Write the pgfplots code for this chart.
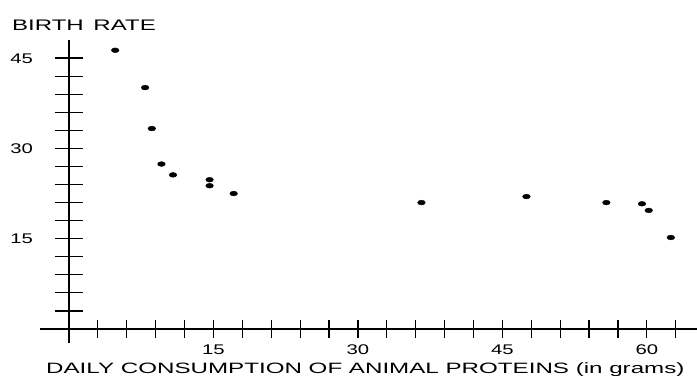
\documentclass[border=0pt]{standalone}
\usepackage{fontspec}
\setmainfont{Liberation Sans}
\newfontfamily\widefont[FakeStretch=1.57]{Liberation Sans}
\newfontfamily\xlabfont[FakeStretch=1.61]{Liberation Sans}
\newfontfamily\tickfont[FakeStretch=1.45]{Liberation Sans}
\usepackage{pgfplots}
\pgfplotsset{compat=1.18}
\pgfplotstableread{
x y
4.8 46.3
7.9 40.1
8.6 33.3
9.6 27.4
10.8 25.6
14.6 24.8
14.6 23.8
17.1 22.5
36.6 21.0
47.5 22.0
55.8 21.0
59.5 20.8
60.2 19.7
62.5 15.2
}\datatable
\pgfplotsset{
  base/.style={
    x=9.63bp, y=6.02bp,
    axis lines=middle,
    axis line style={-, line width=1.3bp, black},
    xmin=-3, xmax=65.5, ymin=-2.3, ymax=48,
    tick align=center,
    tick style={line width=1.2bp, black},
    clip=false,
    /pgf/number format/assume math mode=true,
  }
}
\begin{document}
\begin{tikzpicture}
\begin{axis}[base,
  major tick length=17bp,
  xtick={3,6,...,63},
  xticklabels={,,,,15,,,,,30,,,,,45,,,,,60,},
  xticklabel style={font=\tickfont\fontsize{14bp}{16bp}\selectfont, anchor=base, inner sep=0pt, yshift=-17bp},
  ytick=\empty,
]
\addplot[only marks, mark=*, mark size=2.4bp, mark options={xscale=1.6, black}] table[x=x,y=y] {\datatable};
\coordinate (O) at (axis cs:0,0);
\end{axis}
\begin{axis}[base,
  major tick length=28bp,
  hide x axis,
  ytick={3,6,...,45},
  yticklabels={,,,,15,,,,,30,,,,,45},
  yticklabel style={font=\tickfont\fontsize{14bp}{16bp}\selectfont, anchor=base east, inner sep=0pt, xshift=-21.8bp, yshift=-5bp},
]
\end{axis}
\node[anchor=base west, inner sep=0pt, font=\widefont\fontsize{15.3bp}{18bp}\selectfont] at ([shift={(-57bp,298bp)}]O) {BIRTH\hspace{3bp} RATE};
\node[anchor=base west, inner sep=0pt, font=\xlabfont\fontsize{15bp}{18bp}\selectfont] at ([shift={(-23bp,-44bp)}]O) {DAILY CONSUMPTION OF ANIMAL PROTEINS (in grams)};
\pgfresetboundingbox
\path[use as bounding box] ([shift={(-69bp,-47bp)}]O) rectangle ++(697bp,376bp);
\end{tikzpicture}
\end{document}
